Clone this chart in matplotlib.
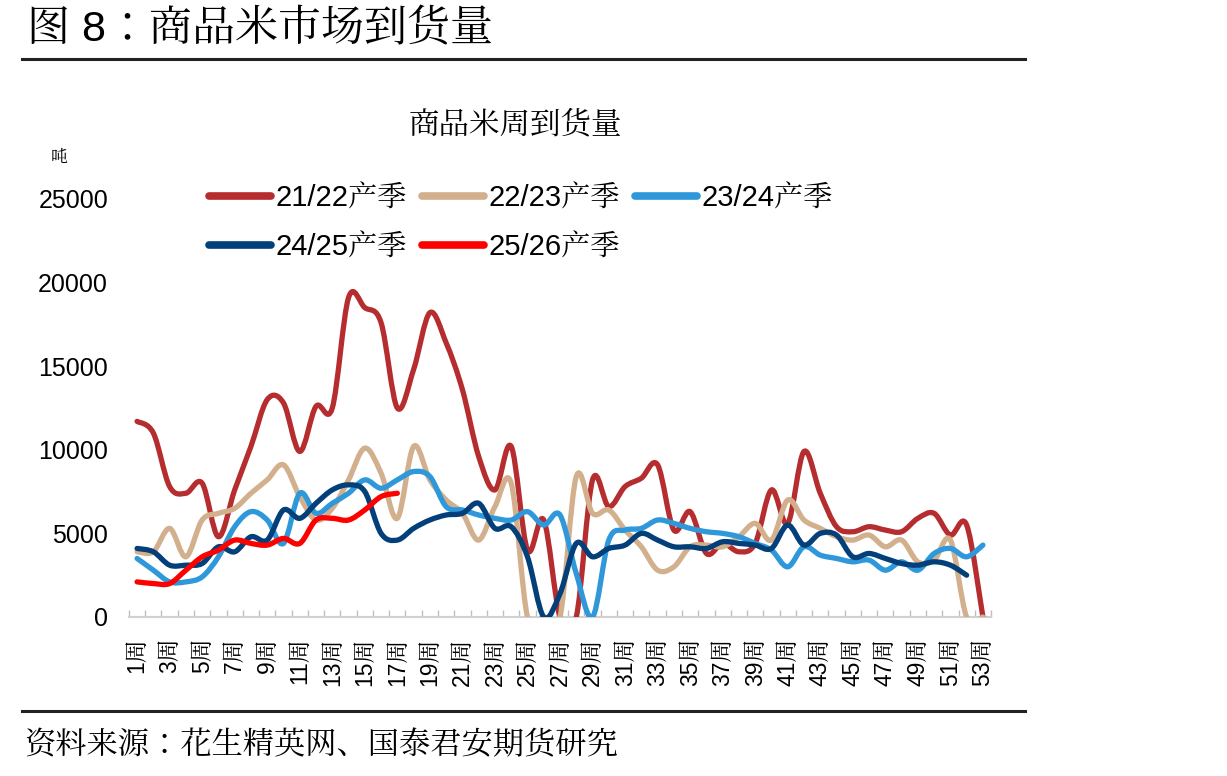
import numpy as np
import matplotlib
matplotlib.use("Agg")
import matplotlib.pyplot as plt
from matplotlib.path import Path
from matplotlib.patches import PathPatch
from matplotlib.lines import Line2D

plt.rcParams['font.family'] = ['Liberation Sans', 'Noto Serif CJK JP', 'Noto Sans CJK SC', 'DejaVu Sans']

# weekly arrivals, tonnes
weeks = list(range(1, 54))
s2122 = [11700, 11000, 7800, 7400, 8000, 4800, 7600, 10200, 13000, 12800,
         9900, 12600, 12500, 19100, 18500, 17600, 12500, 14800, 18200, 16400,
         13600, 9600, 7600, 10200, 4000, 5800, 0, 0, 8200, 6600,
         7800, 8300, 9100, 5200, 6300, 3800, 4400, 3900, 4400, 7600,
         5600, 9900, 7400, 5400, 5100, 5400, 5200, 5100, 5900, 6200,
         4900, 5500, 0]
s2223 = [3900, 3900, 5300, 3600, 5800, 6200, 6500, 7400, 8200, 9100,
         7200, 5800, 6500, 8200, 10100, 8600, 5900, 10200, 8200, 7000,
         6200, 4600, 6600, 8000, 0, 0, 0, 8400, 6200, 6400,
         5200, 4200, 2800, 3000, 4200, 4300, 4200, 4800, 5600, 4600,
         7000, 5800, 5300, 4800, 4600, 4900, 4200, 4600, 3300, 3400,
         4600, 0, 0]
s2324 = [3500, 2800, 2100, 2100, 2400, 3600, 5400, 6300, 5800, 4400,
         7400, 6200, 6800, 7400, 8200, 7700, 8200, 8700, 8400, 6600,
         6400, 6100, 5900, 5800, 6300, 5500, 6100, 2600, 0, 4600,
         5200, 5300, 5800, 5600, 5300, 5100, 5000, 4800, 4400, 4000,
         3000, 4200, 3700, 3500, 3300, 3400, 2800, 3300, 2800, 3800,
         4100, 3600, 4300]
s2425 = [4100, 3900, 3100, 3100, 3200, 4200, 3900, 4800, 4600, 6400,
         5900, 6800, 7600, 7900, 7500, 5000, 4600, 5300, 5800, 6100,
         6200, 6800, 5300, 5400, 3600, 0, 1400, 4400, 3600, 4100,
         4300, 5000, 4600, 4200, 4200, 4100, 4500, 4400, 4300, 4100,
         5500, 4300, 5000, 4900, 3600, 3800, 3500, 3200, 3100, 3300,
         3100, 2500]
s2526 = [2100, 2000, 2000, 2800, 3600, 4000, 4600, 4400, 4300, 4700,
         4400, 5800, 5900, 5800, 6400, 7200, 7400]

series = [
    ("21/22产季", s2122, "#B52D2F"),
    ("22/23产季", s2223, "#D3B08D"),
    ("23/24产季", s2324, "#2E98DB"),
    ("24/25产季", s2425, "#033F79"),
    ("25/26产季", s2526, "#FF0000"),
]


def smooth_path(xs, ys):
    # excel style smoothed line: catmull-rom turned into cubic beziers
    pts = np.column_stack([xs, ys]).astype(float)
    n = len(pts)
    verts = [pts[0]]
    codes = [Path.MOVETO]
    for i in range(n - 1):
        p0 = pts[i - 1] if i > 0 else pts[i]
        p1 = pts[i]
        p2 = pts[i + 1]
        p3 = pts[i + 2] if i + 2 < n else pts[i + 1]
        c1 = p1 + (p2 - p0) / 6.0
        c2 = p2 - (p3 - p1) / 6.0
        verts += [c1, c2, p2]
        codes += [Path.CURVE4] * 3
    return Path(verts, codes)


fig = plt.figure(figsize=(12.27, 7.76), dpi=100)
ax = fig.add_axes([0.1051, 0.2049, 0.7026, 0.5387])

handles = []
for name, vals, col in series:
    xs = weeks[:len(vals)]
    patch = PathPatch(smooth_path(xs, vals), facecolor='none', edgecolor=col,
                      lw=3.8, capstyle='round', joinstyle='round', zorder=3)
    ax.add_patch(patch)
    handles.append(Line2D([], [], color=col, lw=5.5, solid_capstyle='round', label=name))

ax.set_xlim(0.5, 53.5)
ax.set_ylim(0, 25000)
ax.set_yticks([0, 5000, 10000, 15000, 20000, 25000])
ax.tick_params(axis='y', length=0, pad=15, labelsize=18)

odd = weeks[::2]
ax.set_xticks(odd)
ax.set_xticklabels([f"{w}周" for w in odd], rotation=90, fontsize=16.5)
ax.set_xticks(np.arange(0.5, 54, 1), minor=True)
ax.tick_params(axis='x', which='major', length=0, pad=15)
ax.tick_params(axis='x', which='minor', length=5, direction='in', color='#BFBFBF', width=1)

for side in ['left', 'right', 'top']:
    ax.spines[side].set_visible(False)
ax.spines['bottom'].set_color('#D0D0D0')
ax.spines['bottom'].set_linewidth(1.5)

# legend fills column by column, so reorder to get rows 21/22 22/23 23/24 | 24/25 25/26
order = [0, 3, 1, 4, 2]
leg = fig.legend(handles=[handles[i] for i in order], loc='upper left',
                 bbox_to_anchor=(0.170, 0.762), ncol=3, frameon=False, fontsize=21,
                 handlelength=2.15, handletextpad=0.15, columnspacing=0.5,
                 labelspacing=0.72, borderaxespad=0, borderpad=0)

# header / footer
fig.text(0.022, 0.963, "图 8：商品米市场到货量", fontsize=31, va='center', ha='left')
fig.add_artist(Line2D([0.018, 0.835], [0.924, 0.924], color='#222222', lw=2.2))
fig.text(0.42, 0.838, "商品米周到货量", fontsize=22, va='center', ha='center')
fig.text(0.041, 0.797, "吨", fontsize=12, va='center', ha='left')
fig.add_artist(Line2D([0.018, 0.835], [0.084, 0.084], color='#222222', lw=2.2))
fig.text(0.02, 0.039, "资料来源：花生精英网、国泰君安期货研究", fontsize=22.5, va='center',
         ha='left')

fig.savefig("out.png", dpi=100)
